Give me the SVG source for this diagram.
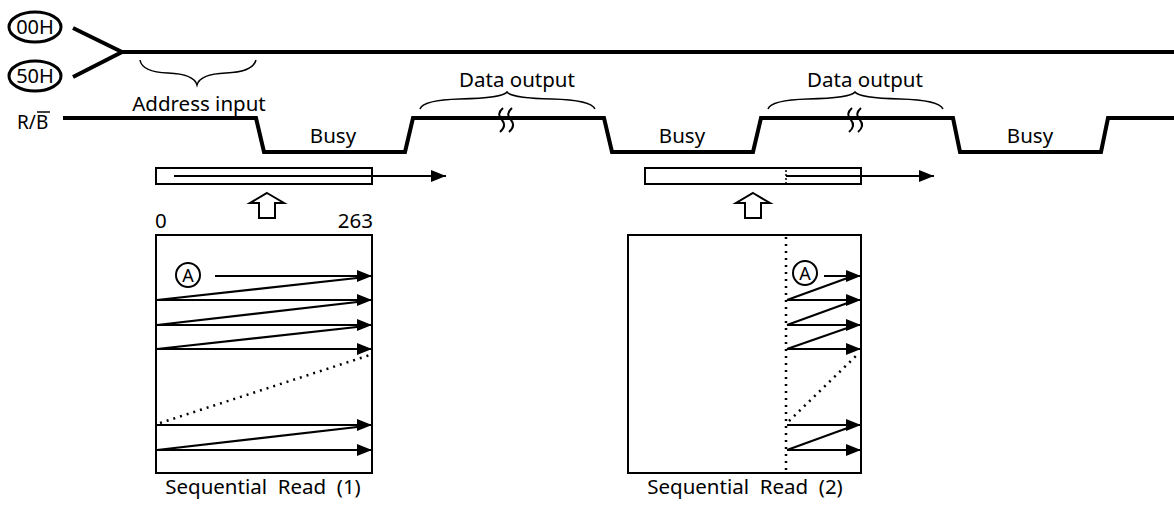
<svg xmlns="http://www.w3.org/2000/svg" width="1174" height="508" viewBox="0 0 1174 508">
<defs>
<marker id="ah" viewBox="0 0 15 12" refX="15" refY="6" markerWidth="15" markerHeight="12" markerUnits="userSpaceOnUse" orient="auto">
<path d="M0,0 L15,6 L0,12 Z" fill="#000"/>
</marker>
</defs>
<style>
text{font-family:"Noto Sans","DejaVu Sans",sans-serif;fill:#000}
.t{font-size:20.5px}
.thick{fill:none;stroke:#000;stroke-width:4;stroke-linejoin:miter}
.box{fill:#fff;stroke:#000;stroke-width:2}
.ln{fill:none;stroke:#000;stroke-width:1.8}
.dg{fill:none;stroke:#000;stroke-width:2.2}
.dot{fill:none;stroke:#000;stroke-width:2.5;stroke-dasharray:2 5}
.br{fill:none;stroke:#000;stroke-width:1.5}
.sq{fill:none;stroke:#000;stroke-width:2}
.arr{marker-end:url(#ah)}
</style>
<g id="cmd00">
<ellipse cx="35" cy="27" rx="26" ry="15" fill="#fff" stroke="#000" stroke-width="3"/>
<text class="t" x="35" y="34" text-anchor="middle" style="font-size:20px">00H</text>
</g>
<g id="cmd50">
<ellipse cx="35" cy="76" rx="26" ry="15" fill="#fff" stroke="#000" stroke-width="3"/>
<text class="t" x="35" y="83" text-anchor="middle" style="font-size:20px">50H</text>
</g>
<g id="io-line">
<path class="thick" d="M73,28 L122,52 L73,77 M122,52 L1174,52"/>
</g>
<g id="address-input">
<path class="br" d="M140,60 Q142,72 168,73 Q194,74 197,85 Q200,74 226,73 Q253,72 256,60"/>
<text class="t" x="199" y="111" text-anchor="middle">Address input</text>
</g>
<g id="rb">
<text class="t" x="17" y="129" style="font-size:19px">R/B</text>
<line x1="37" y1="112" x2="50" y2="112" stroke="#000" stroke-width="1.5"/>
<path class="thick" d="M63,118 L256,118 L264,152 L405,152 L413,118 L604,118 L612,152 L753,152 L761,118 L953,118 L960,152 L1101,152 L1108,118 L1174,118"/>
<text class="t" x="333" y="143" text-anchor="middle">Busy</text>
<text class="t" x="682" y="143" text-anchor="middle">Busy</text>
<text class="t" x="1030" y="143" text-anchor="middle">Busy</text>
</g>
<g id="data-output-1">
<path class="br" d="M420,109 Q423,100 460,99 Q503,98 507,92 Q511,98 552,99 Q591,100 595,109"/>
<text class="t" x="517" y="87" text-anchor="middle">Data output</text>
<path class="sq" d="M503,108 Q496,114 502,120 Q507,126 500,132 M512,108 Q505,114 511,120 Q516,126 509,132"/>
</g>
<g id="data-output-2">
<path class="br" d="M768,109 Q771,100 808,99 Q851,98 855,92 Q859,98 900,99 Q939,100 943,109"/>
<text class="t" x="865" y="87" text-anchor="middle">Data output</text>
<path class="sq" d="M852,108 Q845,114 851,120 Q856,126 849,132 M861,108 Q854,114 860,120 Q865,126 858,132"/>
</g>
<g id="register-1">
<rect class="box" x="156" y="168" width="216" height="16"/>
<line class="ln arr" x1="174" y1="176" x2="446" y2="176"/>
</g>
<g id="up-arrow-1">
<path d="M267,193 L284,203 L275,203 L275,218 L259,218 L259,203 L250,203 Z" fill="#fff" stroke="#000" stroke-width="2"/>
</g>
<g id="page-1">
<text class="t" x="155" y="228">0</text>
<text class="t" x="373" y="228" text-anchor="end">263</text>
<rect class="box" x="156" y="235" width="216" height="238"/>
<circle cx="188" cy="275" r="12" fill="#fff" stroke="#000" stroke-width="2"/>
<text x="188" y="282" text-anchor="middle" style="font-size:18px">A</text>
</g>
<g id="register-2">
<rect class="box" x="645" y="168" width="216" height="16"/>
<line x1="786" y1="170" x2="786" y2="183" style="stroke:#000;stroke-width:1.5;stroke-dasharray:2 2"/>
<line class="ln arr" x1="786" y1="176" x2="934" y2="176"/>
</g>
<g id="up-arrow-2">
<path d="M753,193 L770,203 L761,203 L761,218 L745,218 L745,203 L736,203 Z" fill="#fff" stroke="#000" stroke-width="2"/>
</g>
<g id="page-2">
<rect class="box" x="628" y="235" width="233" height="238"/>
<circle cx="805" cy="273" r="12" fill="#fff" stroke="#000" stroke-width="2"/>
<text x="805" y="280" text-anchor="middle" style="font-size:18px">A</text>
</g>
<g id="captions">
<text class="t" x="263" y="494" text-anchor="middle" xml:space="preserve" style="white-space:pre">Sequential  Read  (1)</text>
<text class="t" x="745" y="494" text-anchor="middle" xml:space="preserve" style="white-space:pre">Sequential  Read  (2)</text>
</g>
<g id="connectors">
<line class="ln arr" x1="215" y1="276" x2="372" y2="276"/>
<line class="dg" x1="157" y1="300" x2="366" y2="277"/>
<line class="ln arr" x1="157" y1="300" x2="372" y2="300"/>
<line class="dg" x1="157" y1="325" x2="366" y2="301"/>
<line class="ln arr" x1="157" y1="325" x2="372" y2="325"/>
<line class="dg" x1="157" y1="349" x2="366" y2="326"/>
<line class="ln arr" x1="157" y1="349" x2="372" y2="349"/>
<line class="dot" x1="160" y1="423" x2="370" y2="355"/>
<line class="dg" x1="157" y1="425" x2="366" y2="425"/>
<line class="ln arr" x1="157" y1="425" x2="372" y2="425"/>
<line class="dg" x1="157" y1="450" x2="366" y2="426"/>
<line class="ln arr" x1="157" y1="450" x2="372" y2="450"/>

<line class="dot" x1="786" y1="237" x2="786" y2="471"/>
<line class="ln arr" x1="824" y1="276" x2="861" y2="276"/>
<line class="dg" x1="787" y1="300" x2="853" y2="276"/>
<line class="ln arr" x1="787" y1="300" x2="861" y2="300"/>
<line class="dg" x1="787" y1="325" x2="853" y2="301"/>
<line class="ln arr" x1="787" y1="325" x2="861" y2="325"/>
<line class="dg" x1="787" y1="349" x2="853" y2="326"/>
<line class="ln arr" x1="787" y1="349" x2="861" y2="349"/>
<line class="dot" x1="789" y1="421" x2="858" y2="354"/>
<line class="dg" x1="787" y1="425" x2="853" y2="425"/>
<line class="ln arr" x1="787" y1="425" x2="861" y2="425"/>
<line class="dg" x1="787" y1="450" x2="853" y2="426"/>
<line class="ln arr" x1="787" y1="450" x2="861" y2="450"/>
</g>
</svg>
